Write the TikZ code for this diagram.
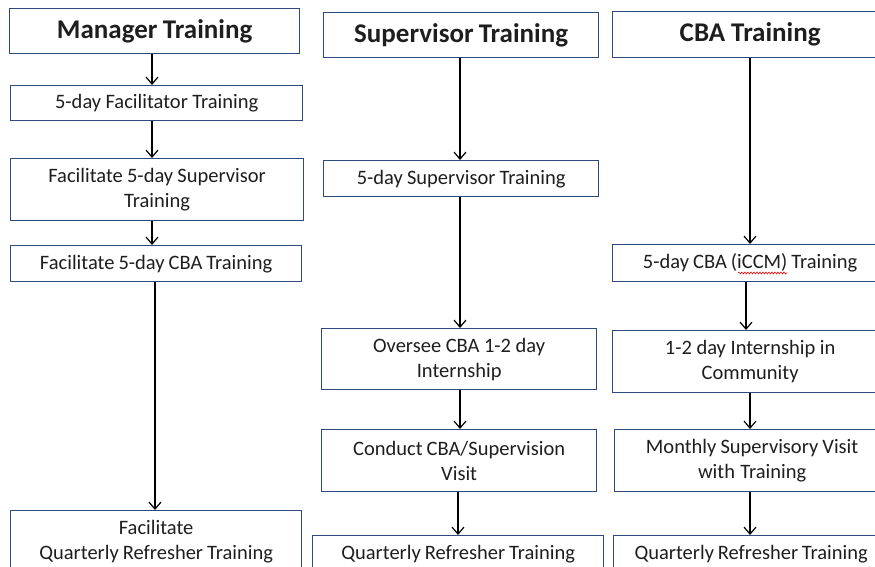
\documentclass[tikz,border=0pt]{standalone}
\usepackage{fontspec}
\setmainfont{Carlito}
\usetikzlibrary{arrows.meta,decorations.pathmorphing}
\definecolor{boxblue}{RGB}{47,74,128}
\definecolor{txt}{RGB}{30,30,30}
\newcommand{\tightsp}{\spaceskip=0.16em plus 0.05em\relax}
\tikzset{
  box/.style={draw=boxblue, line width=1.3pt, anchor=north west, inner sep=0pt,
    align=center, text=txt, font=\fontsize{20.5}{25}\selectfont, execute at begin node=\tightsp},
  titlebox/.style={box, font=\fontsize{27}{28}\selectfont\bfseries},
  arr/.style={draw=black, line width=1.2pt, -{Straight Barb[length=7pt,width=12pt,line width=1.2pt]}}
}
\begin{document}
\begin{tikzpicture}[x=1pt,y=-1pt]
\useasboundingbox (0,0) rectangle (875,567);
\clip (0,0) rectangle (875,567);
% column 1
\node[titlebox, minimum width=290pt, minimum height=45pt, text width=290pt] (m0) at (9,8) {Manager Training};
\node[box, minimum width=292pt, minimum height=35pt, text width=292pt] (m1) at (10,85) {5-day Facilitator Training};
\node[box, minimum width=293pt, minimum height=62pt, text width=293pt] (m2) at (10,158) {Facilitate 5-day Supervisor\\Training};
\node[box, minimum width=291pt, minimum height=36pt, text width=291pt] (m3) at (10,245) {Facilitate 5-day CBA Training};
\node[box, minimum width=291pt, minimum height=62pt, text width=291pt] (m4) at (10,510) {Facilitate\\Quarterly Refresher Training};
% column 2
\node[titlebox, minimum width=275pt, minimum height=45pt, text width=275pt] (s0) at (323,12) {Supervisor Training};
\node[box, minimum width=275pt, minimum height=36pt, text width=275pt] (s1) at (323,160) {5-day Supervisor Training};
\node[box, minimum width=275pt, minimum height=61pt, text width=275pt] (s2) at (321,328) {Oversee CBA 1-2 day\\Internship};
\node[box, minimum width=275pt, minimum height=62pt, text width=275pt] (s3) at (321,429) {Conduct CBA/Supervision\\Visit};
\node[box, minimum width=291pt, minimum height=37pt, text width=291pt] (s4) at (312,535) {Quarterly Refresher Training};
% column 3
\node[titlebox, minimum width=275pt, minimum height=46pt, text width=275pt] (c0) at (612,11) {CBA Training};
\node[box, minimum width=275pt, minimum height=37pt, text width=275pt] (c1) at (612,244) {5-day CBA (iCCM) Training};
\node[box, minimum width=275pt, minimum height=62pt, text width=275pt] (c2) at (612,330) {1-2 day Internship in\\Community};
\node[box, minimum width=275pt, minimum height=62pt, text width=275pt] (c3) at (614,429) {Monthly Supervisory Visit\\with Training};
\node[box, minimum width=275pt, minimum height=37pt, text width=275pt] (c4) at (613,535) {Quarterly Refresher Training};
% x positions of connectors
\coordinate (xa) at (152,0);
\coordinate (xb) at (155,0);
\coordinate (xc) at (460,0);
\coordinate (xd) at (458,0);
\coordinate (xe) at (750,0);
\coordinate (xf) at (746,0);
% connectors
\draw[arr] (m0.south -| xa) -- (m1.north -| xa);
\draw[arr] (m1.south -| xa) -- (m2.north -| xa);
\draw[arr] (m2.south -| xa) -- (m3.north -| xa);
\draw[arr] (m3.south -| xb) -- (m4.north -| xb);
\draw[arr] (s0.south -| xc) -- (s1.north -| xc);
\draw[arr] (s1.south -| xc) -- (s2.north -| xc);
\draw[arr] (s2.south -| xc) -- (s3.north -| xc);
\draw[arr] (s3.south -| xd) -- (s4.north -| xd);
\draw[arr] (c0.south -| xe) -- (c1.north -| xe);
\draw[arr] (c1.south -| xf) -- (c2.north -| xf);
\draw[arr] (c2.south -| xe) -- (c3.north -| xe);
\draw[arr] (c3.south -| xe) -- (c4.north -| xe);
% spell-check squiggle
\draw[red, line width=0.6pt, decorate, decoration={snake, amplitude=0.9pt, segment length=3pt}] (738,273) -- (787,273);
\end{tikzpicture}
\end{document}
